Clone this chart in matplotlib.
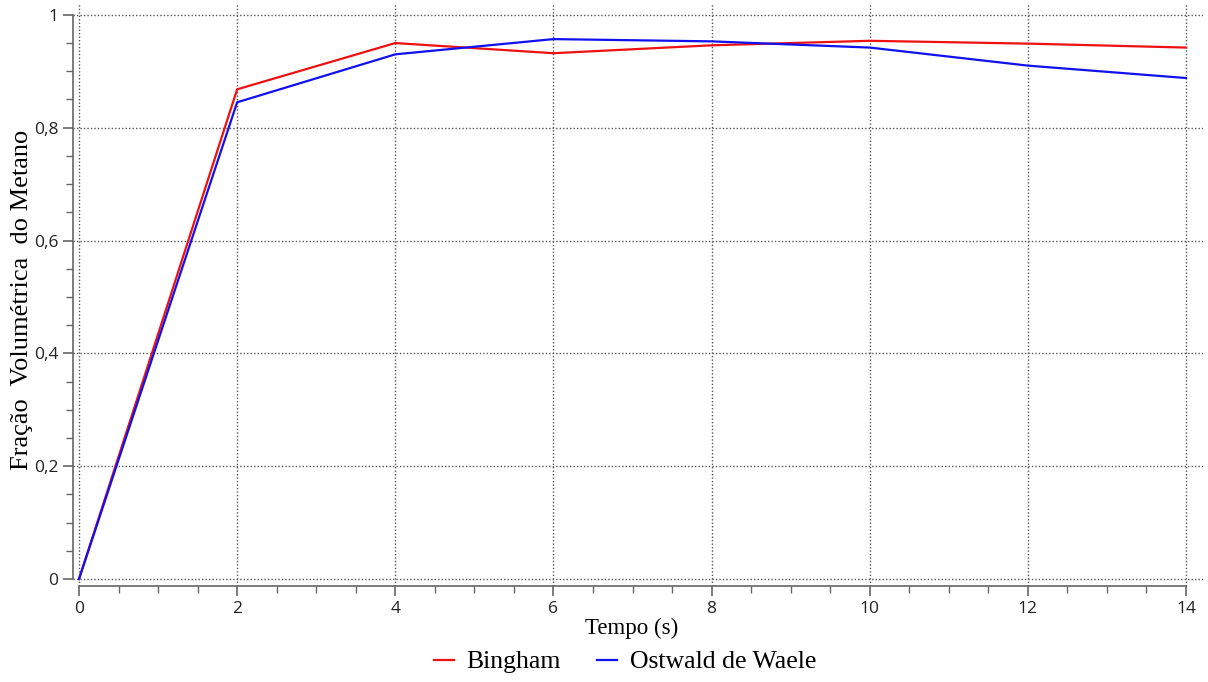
import matplotlib
matplotlib.use("Agg")
import matplotlib.pyplot as plt
from matplotlib.ticker import MultipleLocator, FuncFormatter

tempo = [0, 2, 4, 6, 8, 10, 12, 14]
bingham = [0.0, 0.868, 0.950, 0.932, 0.946, 0.954, 0.949, 0.942]
ostwald = [0.0, 0.845, 0.930, 0.957, 0.953, 0.942, 0.910, 0.888]

fig = plt.figure(figsize=(12.08, 6.82), dpi=100)
ax = fig.add_axes([73 / 1208, 1 - 586 / 682, (1203 - 73) / 1208, (586 - 3) / 682])

ax.plot(tempo, bingham, color="#ee1111", lw=1.6, label="Bingham")
ax.plot(tempo, ostwald, color="#1111ee", lw=1.6, label="Ostwald de Waele")

ax.set_xlim(-0.076, 14.215)
ax.set_ylim(-0.0124, 1.021)
ax.xaxis.set_major_locator(MultipleLocator(2))
ax.xaxis.set_minor_locator(MultipleLocator(0.5))
ax.yaxis.set_major_locator(MultipleLocator(0.2))
ax.yaxis.set_minor_locator(MultipleLocator(0.05))
ax.yaxis.set_major_formatter(FuncFormatter(lambda v, p: f"{v:g}".replace(".", ",")))

ax.grid(True, which="major", color="#555555", ls=(0, (1, 1.5)), lw=1.0)
for s in ["top", "right"]:
    ax.spines[s].set_visible(False)
ax.spines["left"].set_bounds(0, 1)
ax.spines["bottom"].set_bounds(0, 14)
for s in ["left", "bottom"]:
    ax.spines[s].set_color("#666666")
    ax.spines[s].set_linewidth(1.2)
ax.tick_params(which="major", length=7, width=1.2, color="#666666",
               labelsize=12.5, labelcolor="#222222")
ax.tick_params(which="minor", length=5, width=1.0, color="#666666")
for lab in ax.get_xticklabels() + ax.get_yticklabels():
    lab.set_family("Open Sans")

ax.set_xlabel("Tempo (s)", family="Liberation Serif", fontsize=16.5)
ax.xaxis.set_label_coords(0.494, -0.055)
ax.set_ylabel("Fração  Volumétrica  do Metano", family="Liberation Serif",
              fontsize=19)
ax.yaxis.set_label_coords(-0.0355, 0.49)

fig.legend(loc="center", bbox_to_anchor=(625 / 1208, 1 - 662 / 682), ncol=2, frameon=False,
           prop={"family": "Liberation Serif", "size": 18.5}, handlelength=0.78,
           columnspacing=1.4, handletextpad=0.5)

fig.savefig("out.png", dpi=100)
